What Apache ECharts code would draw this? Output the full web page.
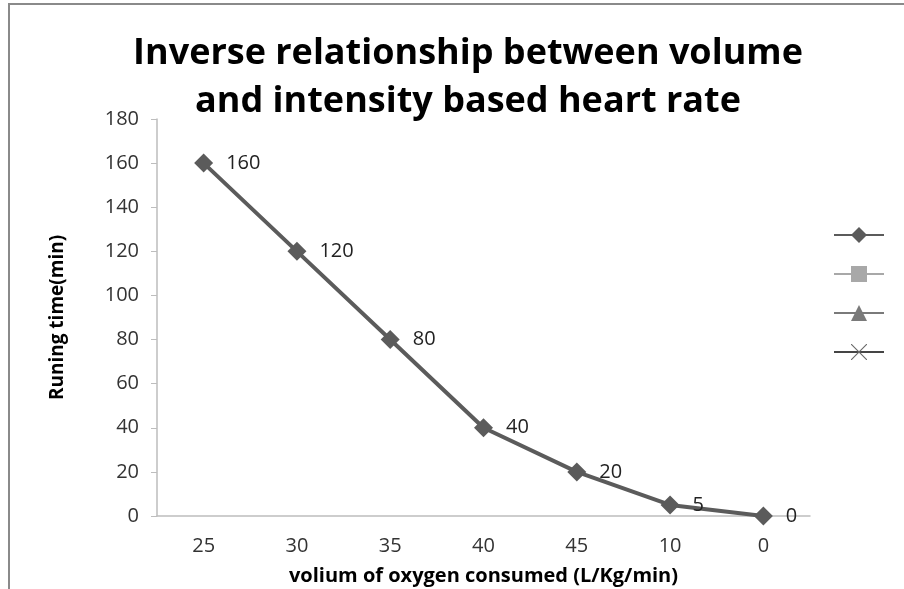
<!DOCTYPE html>
<html><head><meta charset="utf-8">
<script src="https://cdn.jsdelivr.net/npm/echarts@6/dist/echarts.min.js"></script>
<style>
html,body{margin:0;padding:0;background:#fff;}
#c{position:absolute;left:0;top:0;width:904px;height:589px;}
#frame{position:absolute;left:8px;top:3px;width:900px;height:600px;border-left:2px solid #8a8a8a;border-top:2px solid #8a8a8a;pointer-events:none;}
</style></head>
<body>
<div id="c"></div>
<div id="frame"></div>
<script>
const categories = ['25','30','35','40','45','10','0'];
const runningTime = [160,120,80,40,20,5,0];
const yTicks = {min:0, max:180, interval:20};

const chart = echarts.init(document.getElementById('c'));
const font = 'Open Sans';
chart.setOption({
  animation:false,
  title:{
    text:'Inverse relationship between volume\nand intensity based heart rate',
    left:463, top:25, textAlign:'center',
    textStyle:{fontFamily:font, fontWeight:'bold', fontSize:36, lineHeight:48, color:'#000'}
  },
  legend:{
    right:14, top:220, orient:'vertical', itemGap:21, itemWidth:50, itemHeight:20,
    formatter:()=>'' ,
    data:['s1','s2','s3','s4']
  },
  grid:{left:157, right:94, top:119, bottom:73, outerBoundsMode:'none', containLabel:false},
  xAxis:{
    type:'category', data:categories,
    name:'volium of oxygen consumed (L/Kg/min)', nameLocation:'middle', nameGap:50,
    nameTextStyle:{fontFamily:font, fontWeight:'bold', fontSize:20, color:'#000'},
    axisLine:{lineStyle:{color:'#bdbdbd', width:1.5}},
    axisTick:{show:false},
    axisLabel:{fontFamily:font, fontSize:20, color:'#333', margin:20}
  },
  yAxis:{
    type:'value', min:yTicks.min, max:yTicks.max, interval:yTicks.interval,
    name:'Runing time(min)', nameLocation:'middle', nameGap:90, nameRotate:90,
    nameTextStyle:{fontFamily:font, fontWeight:'bold', fontSize:19, color:'#000'},
    axisLine:{show:true, lineStyle:{color:'#bdbdbd', width:1.5}},
    axisTick:{show:true, length:6, lineStyle:{color:'#bdbdbd'}},
    splitLine:{show:false},
    axisLabel:{fontFamily:font, fontSize:20, color:'#333', margin:18}
  },
  series:[
    {name:'s1', type:'line', data:runningTime, symbol:'diamond', symbolSize:19,
     lineStyle:{color:'#5b5b5b', width:4}, itemStyle:{color:'#5b5b5b'},
     label:{show:true, position:'right', distance:13, fontFamily:font, fontSize:20, color:'#222'}},
    {name:'s2', type:'line', data:[], symbol:'rect', symbolSize:15,
     lineStyle:{color:'#a8a8a8', width:4}, itemStyle:{color:'#a8a8a8'}},
    {name:'s3', type:'line', data:[], symbol:'triangle', symbolSize:16,
     lineStyle:{color:'#7a7a7a', width:4}, itemStyle:{color:'#7a7a7a'}},
    {name:'s4', type:'line', data:[], symbol:'path://M0,0L1,0L10,9L19,0L20,0L20,1L11,10L20,19L20,20L19,20L10,11L1,20L0,20L0,19L9,10L0,1Z', symbolSize:15,
     lineStyle:{color:'#454545', width:4}, itemStyle:{color:'#6a6a6a'}}
  ]
});
</script>
</body></html>
